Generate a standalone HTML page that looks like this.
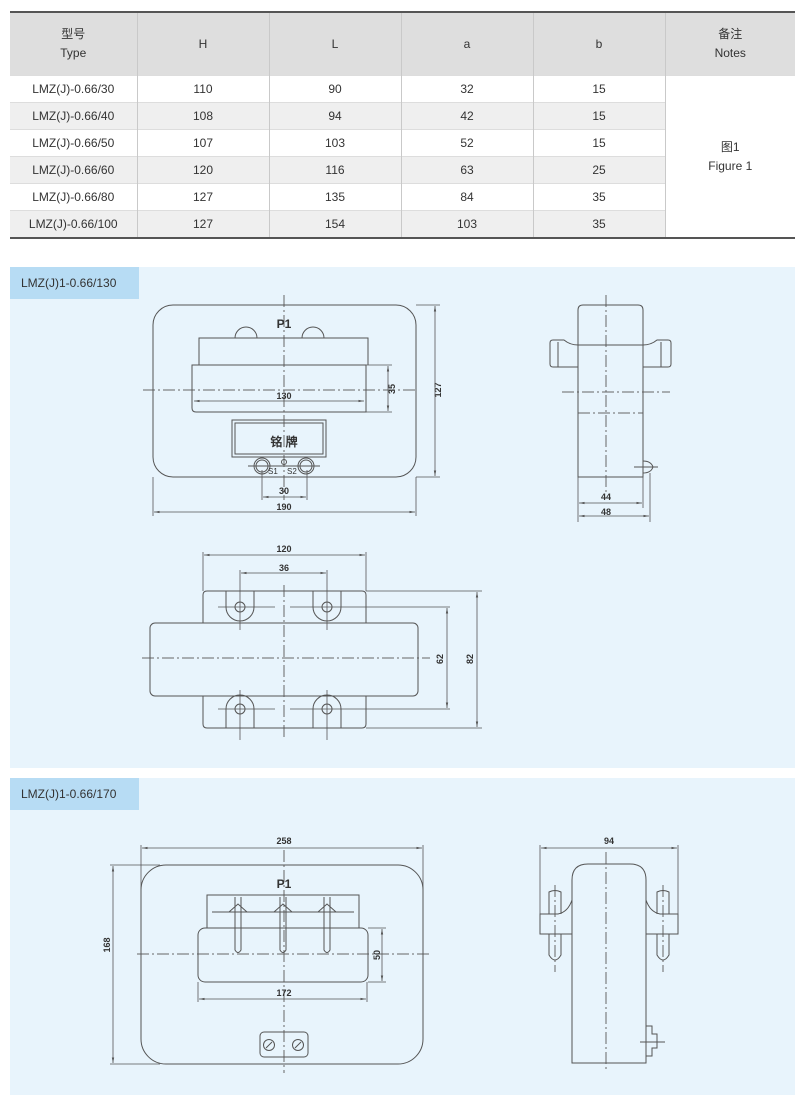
<!DOCTYPE html>
<html><head><meta charset="utf-8"><style>
body{margin:0;width:800px;height:1104px;background:#fff;position:relative;font-family:"Liberation Sans","Noto Sans CJK SC",sans-serif;color:#333;overflow:hidden}
table{position:absolute;left:10px;top:11px;width:785px;border-collapse:collapse;font-size:12px;text-align:center;table-layout:fixed}
td{border-left:1px solid #c9c9c9;height:26px;padding:0;border-top:1px solid #ddd}
td:first-child{border-left:none}
tr.h td{background:#dedede;height:62px;line-height:19px;border-top:2px solid #555}
tr.g td{background:#efefef}
tr.g td.n,tr td.n{background:#fff}
tr.last td{border-bottom:2px solid #555}
td.n{border-bottom:2px solid #555}
.panel{position:absolute;left:10px;width:785px;background:#e8f4fc}
.tab{position:absolute;left:0;top:0;width:129px;height:32px;background:#b7dcf4;font-size:12px;line-height:32px;text-indent:11px;color:#333}
svg{position:absolute;left:0;top:0}
</style></head><body>
<table>
<colgroup><col style="width:127px"><col style="width:132px"><col style="width:132px"><col style="width:132px"><col style="width:132px"><col style="width:130px"></colgroup>
<tr class="h"><td>型号<br>Type</td><td>H</td><td>L</td><td>a</td><td>b</td><td>备注<br>Notes</td></tr>
<tr><td>LMZ(J)-0.66/30</td><td>110</td><td>90</td><td>32</td><td>15</td><td class="n" rowspan="6" style="line-height:19px">图1<br>Figure 1</td></tr>
<tr class="g"><td>LMZ(J)-0.66/40</td><td>108</td><td>94</td><td>42</td><td>15</td></tr>
<tr><td>LMZ(J)-0.66/50</td><td>107</td><td>103</td><td>52</td><td>15</td></tr>
<tr class="g"><td>LMZ(J)-0.66/60</td><td>120</td><td>116</td><td>63</td><td>25</td></tr>
<tr><td>LMZ(J)-0.66/80</td><td>127</td><td>135</td><td>84</td><td>35</td></tr>
<tr class="g last"><td>LMZ(J)-0.66/100</td><td>127</td><td>154</td><td>103</td><td>35</td></tr>
</table>
<div class="panel" style="top:267px;height:501px"><div class="tab">LMZ(J)1-0.66/130</div></div>
<div class="panel" style="top:778px;height:317px"><div class="tab">LMZ(J)1-0.66/170</div></div>

<svg width="800" height="1104" viewBox="0 0 800 1104" fill="none" stroke="#555" stroke-width="1" font-family="Liberation Sans,sans-serif" font-size="9" font-weight="bold">
<defs><marker id="a" markerWidth="8" markerHeight="6" refX="7" refY="3" orient="auto-start-reverse"><path d="M0,1.5L7,3L0,4.5z" fill="#555" stroke="none"/></marker></defs>
<g stroke-dasharray="12,3,2,3" stroke="#666">
<line x1="284" y1="295" x2="284" y2="500"/><line x1="143" y1="390" x2="415" y2="390"/>
<line x1="606" y1="295" x2="606" y2="492"/><line x1="562" y1="392" x2="670" y2="392"/><line x1="578" y1="413" x2="643" y2="413"/>
<line x1="284" y1="585" x2="284" y2="737"/><line x1="142" y1="658" x2="430" y2="658"/>
<line x1="284" y1="850" x2="284" y2="1073"/><line x1="137" y1="954" x2="432" y2="954"/>
<line x1="606" y1="852" x2="606" y2="1072"/><line x1="555" y1="885" x2="555" y2="972"/><line x1="663" y1="885" x2="663" y2="972"/>
</g>
<rect x="153" y="305" width="263" height="172" rx="20"/>
<path d="M199,365V338H368V365"/><path d="M235,338a11,11 0 0 1 22,0M302,338a11,11 0 0 1 22,0"/>
<path d="M192,365H366V412H196q-4,0-4,-4z"/>
<rect x="232" y="420" width="94" height="37"/><rect x="235" y="423" width="88" height="31"/>
<circle cx="262" cy="466" r="8"/><circle cx="262" cy="466" r="6"/><circle cx="306" cy="466" r="8"/><circle cx="306" cy="466" r="6"/><circle cx="284" cy="462" r="2.5"/>
<line x1="248" y1="466" x2="320" y2="466"/>
<g fill="#333" stroke="none">
<text x="284" y="328" font-size="12" text-anchor="middle">P1</text>
<text x="284" y="399" text-anchor="middle">130</text>
<text x="284" y="446" font-size="12" text-anchor="middle">铭 牌</text>
<text x="268" y="474" font-size="8" font-weight="normal">S1</text><text x="287" y="474" font-size="8" font-weight="normal">S2</text>
<text x="284" y="494" text-anchor="middle">30</text><text x="284" y="510" text-anchor="middle">190</text>
<text transform="translate(395,389) rotate(-90)" text-anchor="middle">35</text>
<text transform="translate(441,390) rotate(-90)" text-anchor="middle">127</text>
<text x="606" y="500" text-anchor="middle">44</text><text x="606" y="515" text-anchor="middle">48</text>
</g>
<g stroke-width=".8">
<line x1="194" y1="401" x2="364" y2="401" marker-start="url(#a)" marker-end="url(#a)"/>
<line x1="366" y1="365" x2="392" y2="365"/><line x1="366" y1="412" x2="392" y2="412"/>
<line x1="388" y1="366" x2="388" y2="411" marker-start="url(#a)" marker-end="url(#a)"/>
<line x1="416" y1="305" x2="440" y2="305"/><line x1="416" y1="477" x2="440" y2="477"/>
<line x1="435" y1="306" x2="435" y2="476" marker-start="url(#a)" marker-end="url(#a)"/>
<line x1="262" y1="470" x2="262" y2="500"/><line x1="307" y1="470" x2="307" y2="500"/>
<line x1="263" y1="497" x2="306" y2="497" marker-start="url(#a)" marker-end="url(#a)"/>
<line x1="153" y1="477" x2="153" y2="516"/><line x1="416" y1="477" x2="416" y2="516"/>
<line x1="154" y1="512" x2="415" y2="512" marker-start="url(#a)" marker-end="url(#a)"/>
</g>
<path d="M578,477V310q0,-5 5,-5H638q5,0 5,5V477z"/>
<path d="M578,345q-8,0-14,-5H553q-3,0-3,3V364q0,3 3,3H578M643,345q8,0 14,-5H668q3,0 3,3V364q0,3-3,3H643"/>
<line x1="558" y1="342" x2="558" y2="367"/><line x1="661" y1="342" x2="661" y2="367"/>
<line x1="578" y1="345" x2="643" y2="345"/>
<path d="M643,461q8,0 10,6q-2,6-10,6"/><line x1="634" y1="467" x2="658" y2="467"/>
<g stroke-width=".8">
<line x1="578" y1="477" x2="578" y2="522"/><line x1="643" y1="477" x2="643" y2="508"/><line x1="650" y1="473" x2="650" y2="522"/>
<line x1="579" y1="503" x2="642" y2="503" marker-start="url(#a)" marker-end="url(#a)"/>
<line x1="579" y1="516" x2="649" y2="516" marker-start="url(#a)" marker-end="url(#a)"/>
</g>
<path d="M203,623V595q0,-4 4,-4H362q4,0 4,4V623M203,696V724q0,4 4,4H362q4,0 4,-4V696"/>
<rect x="150" y="623" width="268" height="73" rx="5"/>
<path d="M226,591V607a14,14 0 0 0 28,0V591M313,591V607a14,14 0 0 0 28,0V591M226,728V709a14,14 0 0 1 28,0V728M313,728V709a14,14 0 0 1 28,0V728"/>
<circle cx="240" cy="607" r="5"/><circle cx="327" cy="607" r="5"/><circle cx="240" cy="709" r="5"/><circle cx="327" cy="709" r="5"/>
<g stroke-width=".8">
<line x1="218" y1="607" x2="275" y2="607"/><line x1="290" y1="607" x2="450" y2="607"/><line x1="218" y1="709" x2="275" y2="709"/><line x1="290" y1="709" x2="450" y2="709"/>
<line x1="240" y1="570" x2="240" y2="630"/><line x1="327" y1="570" x2="327" y2="630"/><line x1="240" y1="690" x2="240" y2="740"/><line x1="327" y1="690" x2="327" y2="740"/>
<line x1="203" y1="552" x2="203" y2="591"/><line x1="366" y1="552" x2="366" y2="591"/>
<line x1="204" y1="555" x2="365" y2="555" marker-start="url(#a)" marker-end="url(#a)"/>
<line x1="241" y1="573" x2="326" y2="573" marker-start="url(#a)" marker-end="url(#a)"/>
<line x1="366" y1="591" x2="482" y2="591"/><line x1="366" y1="728" x2="482" y2="728"/>
<line x1="447" y1="608" x2="447" y2="708" marker-start="url(#a)" marker-end="url(#a)"/>
<line x1="477" y1="592" x2="477" y2="727" marker-start="url(#a)" marker-end="url(#a)"/>
</g>
<g fill="#333" stroke="none">
<text x="284" y="552" text-anchor="middle">120</text><text x="284" y="571" text-anchor="middle">36</text>
<text transform="translate(443,659) rotate(-90)" text-anchor="middle">62</text>
<text transform="translate(473,659) rotate(-90)" text-anchor="middle">82</text>
</g>
<rect x="141" y="865" width="282" height="199" rx="25"/>
<path d="M207,928V895H359V928"/><line x1="212" y1="912" x2="354" y2="912"/>
<rect x="198" y="928" width="170" height="54" rx="7"/>
<path d="M235,897V950q3,5 6,0V897M280,897V950q3,5 6,0V897M324,897V950q3,5 6,0V897"/>
<path d="M229,912l9,-8l9,8M274,912l9,-8l9,8M318,912l9,-8l9,8"/>
<rect x="260" y="1032" width="48" height="25" rx="4"/>
<circle cx="269" cy="1045" r="5.5"/><circle cx="298" cy="1045" r="5.5"/>
<path d="M266,1048l6,-6M295,1048l6,-6"/>
<g stroke-width=".8">
<line x1="141" y1="845" x2="141" y2="900"/><line x1="423" y1="845" x2="423" y2="900"/>
<line x1="142" y1="848" x2="422" y2="848" marker-start="url(#a)" marker-end="url(#a)"/>
<line x1="110" y1="865" x2="160" y2="865"/><line x1="110" y1="1064" x2="160" y2="1064"/>
<line x1="113" y1="866" x2="113" y2="1063" marker-start="url(#a)" marker-end="url(#a)"/>
<line x1="368" y1="928" x2="386" y2="928"/><line x1="368" y1="982" x2="386" y2="982"/>
<line x1="382" y1="929" x2="382" y2="981" marker-start="url(#a)" marker-end="url(#a)"/>
<line x1="198" y1="982" x2="198" y2="1002"/><line x1="367" y1="982" x2="367" y2="1002"/>
<line x1="199" y1="999" x2="366" y2="999" marker-start="url(#a)" marker-end="url(#a)"/>
</g>
<g fill="#333" stroke="none">
<text x="284" y="888" font-size="12" text-anchor="middle">P1</text>
<text x="284" y="844" text-anchor="middle">258</text>
<text x="284" y="996" text-anchor="middle">172</text>
<text transform="translate(110,945) rotate(-90)" text-anchor="middle">168</text>
<text transform="translate(380,955) rotate(-90)" text-anchor="middle">50</text>
<text x="609" y="844" text-anchor="middle">94</text>
</g>
<path d="M572,1063V880q0,-16 16,-16H630q16,0 16,16V1063z"/>
<path d="M572,900q-4,12-14,14H540V934H572M646,900q4,12 14,14H678V934H646"/>
<path d="M549,934V955q6,10 12,0V934M549,914V892q6,-3 12,0V914M657,934V955q6,10 12,0V934M657,914V892q6,-3 12,0V914"/>
<path d="M646,1026h6v8h5v14h-5v8h-6"/><line x1="640" y1="1042" x2="665" y2="1042"/>
<g stroke-width=".8">
<line x1="540" y1="845" x2="540" y2="914"/><line x1="678" y1="845" x2="678" y2="914"/>
<line x1="541" y1="848" x2="677" y2="848" marker-start="url(#a)" marker-end="url(#a)"/>
</g>
</svg>
</body></html>
